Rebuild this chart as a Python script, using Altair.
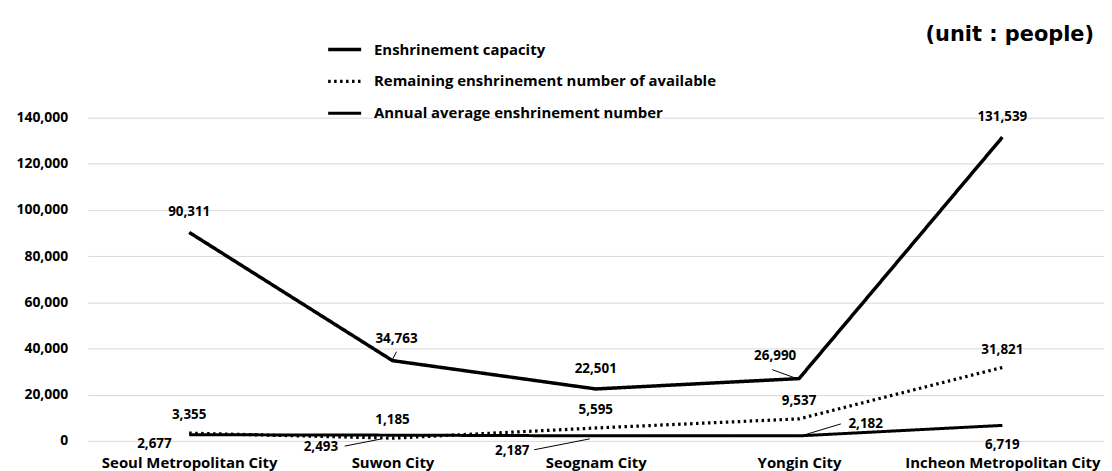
import altair as alt
import pandas as pd

cities = ["Seoul Metropolitan City", "Suwon City", "Seognam City", "Yongin City", "Incheon Metropolitan City"]
capacity = [90311, 34763, 22501, 26990, 131539]
remaining = [3355, 1185, 5595, 9537, 31821]
annual = [2677, 2493, 2187, 2182, 6719]
series_names = [
    "Enshrinement capacity",
    "Remaining enshrinement number of available",
    "Annual average enshrinement number",
]
y_ticks = [0, 20000, 40000, 60000, 80000, 100000, 120000, 140000]
unit_text = "(unit : people)"

# label placement offsets (pixels, dx, dy) relative to each point
capacity_label_offsets = [(0, -20), (4, -22), (0, -20), (-24, -23), (0, -20)]
remaining_label_offsets = [(0, -18), (0, -18), (0, -18), (0, -18), (0, -18)]
annual_label_offsets = [(-35, 9), (-72, 12), (-84, 15), (67, -12), (0, 20)]
# leader lines: (series index, city index, start offset, end offset) in pixels
leaders = [
    (0, 1, (4, -9), (0, -1)),
    (0, 3, (-27, -9), (-5, -1)),
    (2, 1, (-48, 11), (-12, 4)),
    (2, 2, (-62, 14), (-6, 3)),
    (2, 3, (2, 0), (42, -12)),
]

W, H = 1022, 325
Y_MAX = 140000
X_STEP = W / len(cities)          # pixels per category
Y_PER_PX = Y_MAX / H              # data units per pixel

all_vals = [capacity, remaining, annual]
rows = []
for s, vals in zip(series_names, all_vals):
    for i, v in enumerate(vals):
        rows.append({"idx": i, "series": s, "value": v})
df = pd.DataFrame(rows)

lab_rows = []
for s, vals, offs in zip(series_names, all_vals,
                         [capacity_label_offsets, remaining_label_offsets, annual_label_offsets]):
    for i, (v, (dx, dy)) in enumerate(zip(vals, offs)):
        lab_rows.append({"lx": i + dx / X_STEP, "ly": v - dy * Y_PER_PX, "value": v})
lab_df = pd.DataFrame(lab_rows)

lead_rows = []
for si, ci, a, b in leaders:
    v = all_vals[si][ci]
    lead_rows.append({
        "x1": ci + a[0] / X_STEP, "y1": v - a[1] * Y_PER_PX,
        "x2": ci + b[0] / X_STEP, "y2": v - b[1] * Y_PER_PX,
    })
lead_df = pd.DataFrame(lead_rows)

FONT = "Open Sans"
label_expr = "[" + ",".join("'%s'" % c for c in cities) + "][datum.value]"

x_scale = alt.Scale(domain=[-0.5, len(cities) - 0.5], nice=False, zero=False)
y_scale = alt.Scale(domain=[0, Y_MAX], nice=False)

x_enc = alt.X(
    "idx:Q",
    scale=x_scale,
    axis=alt.Axis(
        title=None, values=list(range(len(cities))), labelExpr=label_expr,
        labelAngle=0, labelFontSize=15, labelFontWeight="bold",
        labelColor="#000", labelPadding=15, domain=False, ticks=False, grid=False,
        labelFont=FONT, labelLimit=400, labelFlush=False, labelOverlap=False,
    ),
)
y_enc = alt.Y(
    "value:Q",
    scale=y_scale,
    axis=alt.Axis(
        title=None, values=y_ticks, format=",d", labelFontSize=14, labelFontWeight="bold",
        labelColor="#000", labelPadding=20, domain=False, ticks=False,
        gridColor="#d9d9d9", gridWidth=1, labelFont=FONT,
    ),
)

leg = alt.Legend(
    title=None, orient="none", legendX=240, legendY=-87,
    symbolType="stroke", symbolSize=1100, symbolStrokeColor="#000",
    labelFontSize=15, labelFontWeight="bold", labelColor="#000", labelFont=FONT,
    rowPadding=5, labelOffset=11, labelLimit=600,
)

lines = alt.Chart(df).mark_line(color="#000", strokeCap="butt").encode(
    x=x_enc,
    y=y_enc,
    strokeDash=alt.StrokeDash(
        "series:N",
        sort=series_names,
        scale=alt.Scale(domain=series_names, range=[[1, 0], [2.5, 3.5], [1, 0]]),
        legend=leg,
    ),
    strokeWidth=alt.StrokeWidth(
        "series:N",
        sort=series_names,
        scale=alt.Scale(domain=series_names, range=[3.5, 3, 1.5]),
        legend=leg,
    ),
    detail="series:N",
)

labels = alt.Chart(lab_df).mark_text(
    font=FONT, fontSize=13.5, fontWeight="bold", color="#000"
).encode(
    x=alt.X("lx:Q", scale=x_scale),
    y=alt.Y("ly:Q", scale=y_scale),
    text=alt.Text("value:Q", format=",d"),
)

leader_lines = alt.Chart(lead_df).mark_rule(color="#000", strokeWidth=1).encode(
    x=alt.X("x1:Q", scale=x_scale),
    x2="x2:Q",
    y=alt.Y("y1:Q", scale=y_scale),
    y2="y2:Q",
)

chart = alt.layer(lines, leader_lines, labels).properties(
    width=W,
    height=H,
    autosize=alt.AutoSizeParams(type="none"),
    padding={"left": 80, "top": 109, "right": 0, "bottom": 30},
    title=alt.TitleParams(
        unit_text, anchor="end", fontSize=21, fontWeight="bold", font="DejaVu Sans",
        color="#000", offset=37, dy=51, dx=-10,
    ),
).configure_view(stroke=None)

chart.save("out.html", embed_options={"renderer": "svg", "actions": False})
